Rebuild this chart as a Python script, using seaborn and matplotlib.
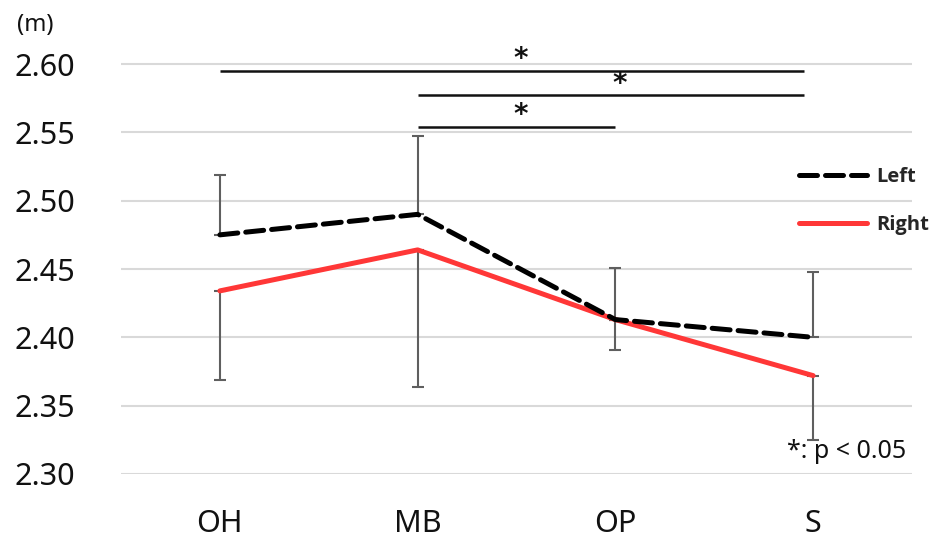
import numpy as np
import pandas as pd
import matplotlib
matplotlib.use("Agg")
import matplotlib.pyplot as plt
import seaborn as sns
from matplotlib.font_manager import FontProperties

# ---- data ----
categories = ["OH", "MB", "OP", "S"]
left_values = [2.475, 2.490, 2.413, 2.400]
right_values = [2.434, 2.464, 2.413, 2.372]
left_err_up = [0.044, 0.057, 0.038, 0.048]
right_err_down = [0.065, 0.100, 0.022, 0.047]
y_ticks = [2.30, 2.35, 2.40, 2.45, 2.50, 2.55, 2.60]
y_tick_labels = ["2.30", "2.35", "2.40", "2.45", "2.50", "2.55", "2.60"]
bracket_from = ["OH", "MB", "MB"]
bracket_to = ["S", "S", "OP"]
bracket_end_trim = [0.045, 0.045, 0.0]
bracket_y = [2.595, 2.577, 2.554]
unit_label = "(m)"
note_text = "*: p < 0.05"

sns.set_style("white")
plt.rcParams["font.family"] = ["Noto Sans", "DejaVu Sans"]

fig = plt.figure(figsize=(9.34, 5.40), dpi=100)
ax = fig.add_axes([121 / 934, 1 - 474 / 540, (912 - 121) / 934, (474 - 36.7) / 540])

pos = np.arange(len(categories))
df = pd.DataFrame({"pos": pos, "Left": left_values, "Right": right_values})

err_col = "#5f5f5f"
ax.errorbar(pos, df["Left"], yerr=[np.zeros(len(pos)), left_err_up], fmt="none",
            ecolor=err_col, elinewidth=1.5, capsize=4.5, capthick=1.5, zorder=2)
ax.errorbar(pos, df["Right"], yerr=[right_err_down, np.zeros(len(pos))], fmt="none",
            ecolor=err_col, elinewidth=1.5, capsize=4.5, capthick=1.5, zorder=2)

sns.lineplot(data=df, x="pos", y="Left", ax=ax, color="black", linewidth=3.6,
             label="Left", zorder=4)
sns.lineplot(data=df, x="pos", y="Right", ax=ax, color="#FF3737", linewidth=3.6,
             label="Right", zorder=3)
lines = ax.get_lines()
left_line = [l for l in lines if l.get_label() == "Left"][0]
left_line.set_dashes((3.6, 1.6))
left_line.set_dash_capstyle("round")

ax.set_xlim(-0.5, len(categories) - 0.5)
ax.set_ylim(2.30, 2.62)
ax.set_yticks(y_ticks)
ax.set_yticklabels(y_tick_labels)
ax.set_xticks(pos)
ax.set_xticklabels(categories)
ax.tick_params(axis="y", length=0, pad=33, labelsize=22, colors="#111111")
ax.tick_params(axis="x", length=0, pad=25, labelsize=22, colors="#111111")
ax.set_xlabel("")
ax.set_ylabel("")
ax.yaxis.grid(True, color="#d9d9d9", linewidth=1.5)
ax.xaxis.grid(False)
for s in ax.spines.values():
    s.set_visible(False)

# significance brackets
for a, b, trim, yv in zip(bracket_from, bracket_to, bracket_end_trim, bracket_y):
    x0 = categories.index(a)
    x1 = categories.index(b)
    ax.plot([x0, x1 - trim], [yv, yv], color="#111111", linewidth=1.8,
            solid_capstyle="butt", zorder=5, clip_on=False)
    ax.text((x0 + x1) / 2 + 0.02, yv + 0.0085, "*", ha="center", va="center",
            fontsize=20, fontweight="bold", color="#111111",
            family=["DejaVu Sans"])

fig.text(17 / 934, 1 - 25 / 540, unit_label, ha="left", va="center",
         fontsize=17, color="#111111")
ax.text(0.993, 0.052, note_text, transform=ax.transAxes, ha="right",
        va="center", fontsize=18, color="#111111")

leg_font = FontProperties(family=["Open Sans", "DejaVu Sans"], weight="bold", size=14.5)
leg = ax.legend(loc="upper left", bbox_to_anchor=(799 / 934, 1 - 167 / 540),
                bbox_transform=fig.transFigure, frameon=False, borderpad=0,
                borderaxespad=0, handlelength=3.4, handletextpad=0.45,
                labelspacing=1.4, prop=leg_font)

fig.savefig("out.png", dpi=100)
